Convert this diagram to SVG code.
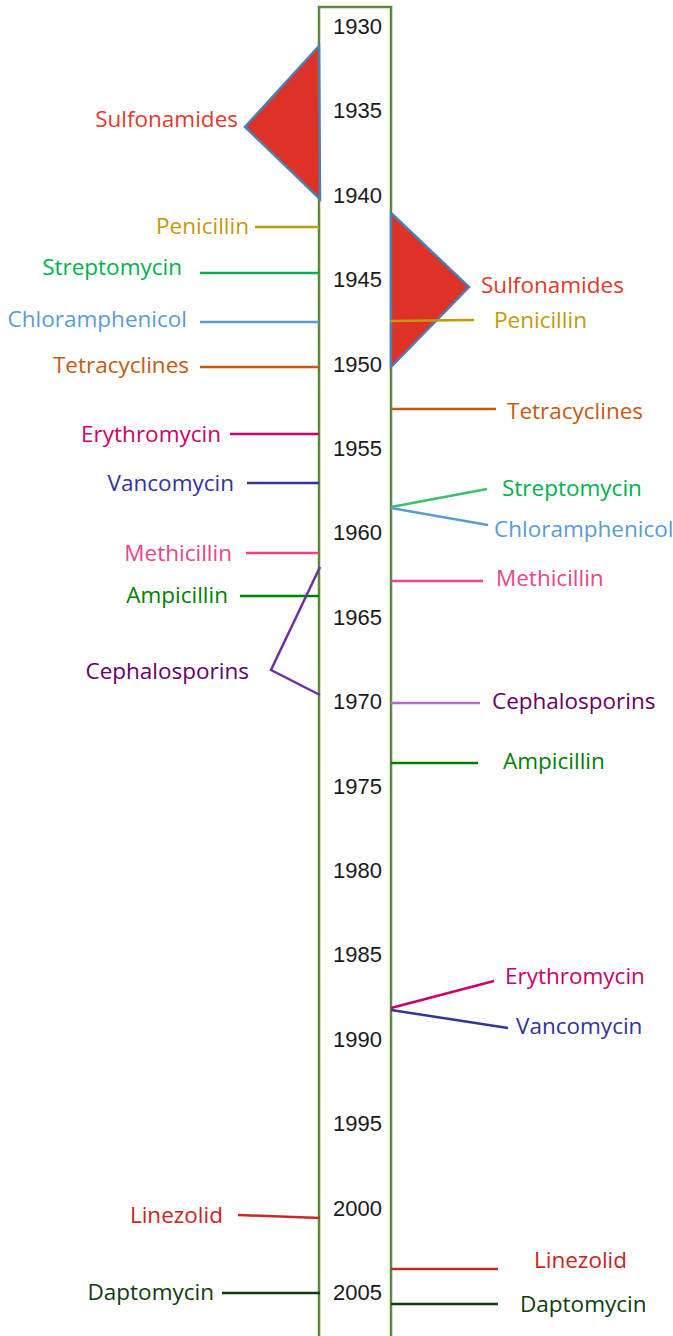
<svg xmlns="http://www.w3.org/2000/svg" width="673" height="1336" viewBox="0 0 673 1336">
<style>
.yr{font-family:"Liberation Sans",Arial,sans-serif;font-size:22px;fill:#1a1a1a;text-anchor:end}
.lb{font-family:"Open Sans","Noto Sans",sans-serif;font-size:22.5px}
.L{text-anchor:end}
.R{text-anchor:start}
.c{fill:none;stroke-width:2.5}
.tri{fill:#de3226;stroke:#4a7fae;stroke-width:2.5;stroke-linejoin:miter}
</style>
<rect width="673" height="1336" fill="#ffffff"/>
<g id="axis">
<rect x="319" y="7" width="72" height="1340" fill="#ffffff" stroke="#5a8a3c" stroke-width="2.5"/>
<text class="yr" x="382" y="34">1930</text>
<text class="yr" x="382" y="118">1935</text>
<text class="yr" x="382" y="203">1940</text>
<text class="yr" x="382" y="287">1945</text>
<text class="yr" x="382" y="372">1950</text>
<text class="yr" x="382" y="456">1955</text>
<text class="yr" x="382" y="540">1960</text>
<text class="yr" x="382" y="625">1965</text>
<text class="yr" x="382" y="709">1970</text>
<text class="yr" x="382" y="794">1975</text>
<text class="yr" x="382" y="878">1980</text>
<text class="yr" x="382" y="962">1985</text>
<text class="yr" x="382" y="1047">1990</text>
<text class="yr" x="382" y="1131">1995</text>
<text class="yr" x="382" y="1216">2000</text>
<text class="yr" x="382" y="1300">2005</text>
</g>
<g id="connectors">
<polygon class="tri" points="319,46 245,127 320,199"/>
<polygon class="tri" points="391,213 469,287 391,367"/>
<line class="c" x1="255" y1="227" x2="319" y2="227" stroke="#c19a0b"/>
<line class="c" x1="200" y1="273" x2="319" y2="273" stroke="#00b050"/>
<line class="c" x1="200" y1="322" x2="319" y2="322" stroke="#5b9bd5"/>
<line class="c" x1="200" y1="367" x2="319" y2="367" stroke="#c55a11"/>
<line class="c" x1="230" y1="434" x2="319" y2="434" stroke="#cc0066"/>
<line class="c" x1="247" y1="483" x2="319" y2="483" stroke="#333399"/>
<line class="c" x1="246" y1="553" x2="319" y2="553" stroke="#e8468a"/>
<line class="c" x1="240" y1="596" x2="319" y2="596" stroke="#008000"/>
<polyline class="c" points="320,567 271,670 320,695" stroke="#7030a0"/>
<line class="c" x1="238" y1="1215" x2="320" y2="1218" stroke="#c62828"/>
<line class="c" x1="222" y1="1293" x2="320" y2="1293" stroke="#0b3d0b"/>
<line class="c" x1="390" y1="321" x2="474" y2="320" stroke="#c19a0b"/>
<line class="c" x1="391" y1="409" x2="496" y2="409" stroke="#c55a11"/>
<line class="c" x1="391" y1="507" x2="487" y2="489" stroke="#3cc070"/>
<line class="c" x1="391" y1="508" x2="488" y2="525" stroke="#5b9bd5"/>
<line class="c" x1="391" y1="581" x2="483" y2="581" stroke="#e8468a"/>
<line class="c" x1="391" y1="703" x2="480" y2="703" stroke="#b36ad0"/>
<line class="c" x1="391" y1="763" x2="478" y2="763" stroke="#008000"/>
<line class="c" x1="391" y1="1008" x2="494" y2="981" stroke="#cc0066"/>
<line class="c" x1="391" y1="1010" x2="508" y2="1028" stroke="#333399"/>
<line class="c" x1="391" y1="1269" x2="498" y2="1269" stroke="#c62828"/>
<line class="c" x1="391" y1="1304" x2="498" y2="1304" stroke="#0b3d0b"/>
</g>
<g id="sulfonamides-left"><text class="lb L" x="238" y="127" fill="#e03a2a">Sulfonamides</text></g>
<g id="penicillin-left"><text class="lb L" x="249" y="234" fill="#c19a0b">Penicillin</text></g>
<g id="streptomycin-left"><text class="lb L" x="182" y="275" fill="#00b050">Streptomycin</text></g>
<g id="chloramphenicol-left"><text class="lb L" x="187" y="327" fill="#5b9bd5">Chloramphenicol</text></g>
<g id="tetracyclines-left"><text class="lb L" x="189" y="373" fill="#c55a11">Tetracyclines</text></g>
<g id="erythromycin-left"><text class="lb L" x="221" y="442" fill="#cc0066">Erythromycin</text></g>
<g id="vancomycin-left"><text class="lb L" x="234" y="491" fill="#333399">Vancomycin</text></g>
<g id="methicillin-left"><text class="lb L" x="232" y="561" fill="#e8468a">Methicillin</text></g>
<g id="ampicillin-left"><text class="lb L" x="228" y="603" fill="#008000">Ampicillin</text></g>
<g id="cephalosporins-left"><text class="lb L" x="249" y="679" fill="#660066">Cephalosporins</text></g>
<g id="linezolid-left"><text class="lb L" x="223" y="1223" fill="#cc2222">Linezolid</text></g>
<g id="daptomycin-left"><text class="lb L" x="214" y="1300" fill="#0b3d0b">Daptomycin</text></g>
<g id="sulfonamides-right"><text class="lb R" x="481" y="293" fill="#e03a2a">Sulfonamides</text></g>
<g id="penicillin-right"><text class="lb R" x="494" y="328" fill="#c19a0b">Penicillin</text></g>
<g id="tetracyclines-right"><text class="lb R" x="507" y="419" fill="#c55a11">Tetracyclines</text></g>
<g id="streptomycin-right"><text class="lb R" x="502" y="496" fill="#00b050">Streptomycin</text></g>
<g id="chloramphenicol-right"><text class="lb R" x="494" y="537" fill="#5b9bd5">Chloramphenicol</text></g>
<g id="methicillin-right"><text class="lb R" x="496" y="586" fill="#e8468a">Methicillin</text></g>
<g id="cephalosporins-right"><text class="lb R" x="492" y="709" fill="#660066">Cephalosporins</text></g>
<g id="ampicillin-right"><text class="lb R" x="503" y="769" fill="#008000">Ampicillin</text></g>
<g id="erythromycin-right"><text class="lb R" x="505" y="984" fill="#cc0066">Erythromycin</text></g>
<g id="vancomycin-right"><text class="lb R" x="516" y="1034" fill="#333399">Vancomycin</text></g>
<g id="linezolid-right"><text class="lb R" x="534" y="1268" fill="#cc2222">Linezolid</text></g>
<g id="daptomycin-right"><text class="lb R" x="520" y="1312" fill="#0b3d0b">Daptomycin</text></g>
</svg>
